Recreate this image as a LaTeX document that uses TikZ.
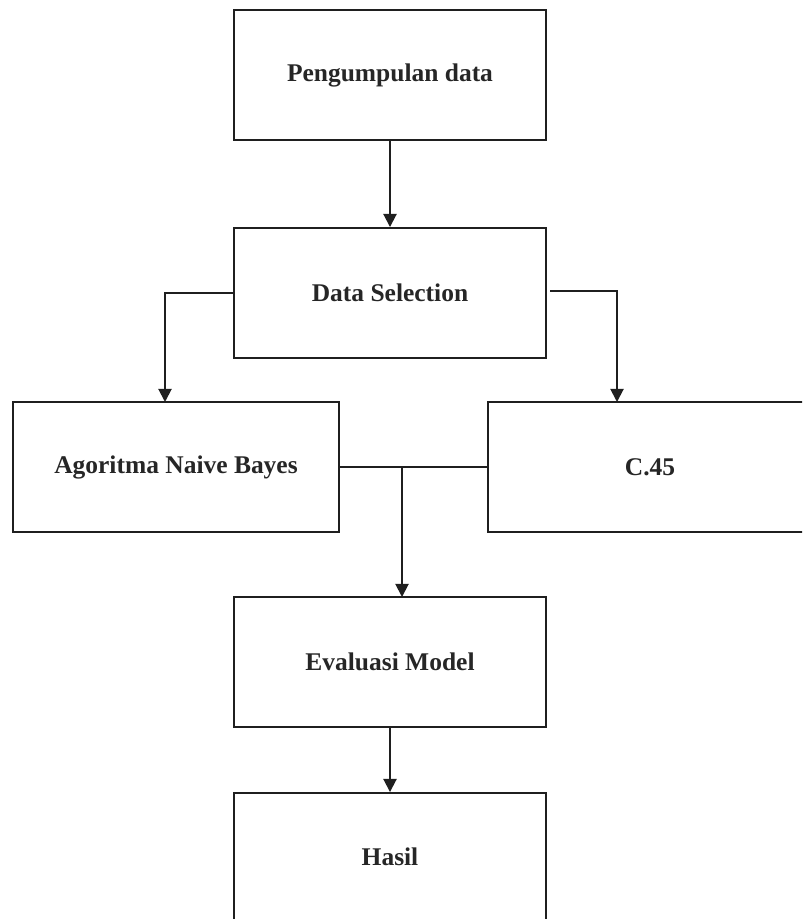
\documentclass[tikz,border=0pt]{standalone}
\usepackage{fontspec}
\setmainfont{Liberation Serif}
\usetikzlibrary{arrows.meta}
\begin{document}
\begin{tikzpicture}[x=0.02cm,y=-0.02cm,
  box/.style={draw=black!88, line width=1.1pt, rectangle, minimum width=312*0.02cm, minimum height=130*0.02cm, inner sep=0pt, font=\fontsize{14.5}{17}\selectfont\bfseries, text=black!85},
  conn/.style={draw=black!88, line width=1.1pt},
  arr/.style={conn, -{Triangle[width=7.5pt,length=7.5pt]}}]
\useasboundingbox (0,0) rectangle (802,919);
\clip (0,0) rectangle (802,919);
\node[box] (pd) at (390,75) {Pengumpulan data};
\node[box] (ds) at (390,293) {Data Selection};
\node[box, minimum width=326*0.02cm] (nb) at (176,467) {Agoritma Naive Bayes};
\node[box, minimum width=324*0.02cm] (c45) at (650,467) {C.45};
\node[box] (ev) at (390,662) {Evaluasi Model};
\node[box, minimum height=128*0.02cm] (hs) at (390,857) {Hasil};
\coordinate (lt) at (165,402);
\coordinate (rs) at (550,291);
\coordinate (rt) at (617,402);
\coordinate (mj) at (402,467);
\coordinate (mt) at (402,597);
\draw[arr] (pd.south) -- (ds.north);
\draw[arr] (ds.west) -| (lt);
\draw[arr] (rs) -| (rt);
\draw[conn] (nb.east) -- (c45.west);
\draw[arr] (mj) -- (mt);
\draw[arr] (ev.south) -- (hs.north);
\end{tikzpicture}
\end{document}
